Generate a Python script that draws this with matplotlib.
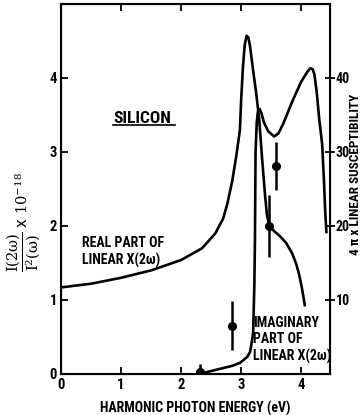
import matplotlib
matplotlib.use('Agg')
import matplotlib.pyplot as plt
from matplotlib import font_manager

# real part of linear chi(2w)
real_x = [0.0, 0.5, 1.0, 1.5, 2.0, 2.35, 2.57, 2.7, 2.77, 2.85, 2.92, 2.98,
          3.0, 3.03, 3.06, 3.09, 3.12, 3.15, 3.2, 3.25, 3.3, 3.35, 3.4,
          3.43, 3.47, 3.55, 3.65, 3.75, 3.85, 3.92, 3.97, 4.01, 4.04, 4.06]
real_y = [1.17, 1.22, 1.30, 1.40, 1.54, 1.70, 1.90, 2.1, 2.3, 2.6, 2.95, 3.3,
          3.7, 4.15, 4.45, 4.57, 4.55, 4.42, 4.1, 3.8, 3.45, 2.9, 2.4,
          2.15, 2.0, 1.93, 1.86, 1.77, 1.63, 1.48, 1.33, 1.17, 1.03, 0.93]

# imaginary part of linear chi(2w)
imag_x = [2.35, 2.5, 2.7, 2.85, 2.98, 3.1, 3.15, 3.2, 3.22, 3.23, 3.24, 3.26,
          3.28, 3.31, 3.34, 3.38, 3.45, 3.55, 3.62, 3.7, 3.85, 4.0, 4.1,
          4.15, 4.19, 4.22, 4.26, 4.3, 4.35, 4.38, 4.4, 4.42]
imag_y = [0.01, 0.04, 0.08, 0.11, 0.15, 0.23, 0.3, 0.55, 1.2, 1.8, 3.0, 3.4,
          3.55, 3.58, 3.52, 3.4, 3.28, 3.21, 3.25, 3.38, 3.68, 3.95, 4.08,
          4.13, 4.12, 4.05, 3.8, 3.45, 3.1, 2.6, 2.2, 1.92]

# measured points
pts_x = [2.32, 2.85, 3.47, 3.58]
pts_y = [0.03, 0.65, 2.0, 2.81]
pts_err = [0.1, 0.33, 0.42, 0.33]

# the lettering of the original is narrow, take a condensed face if there is one
have = {(f.name, f.stretch) for f in font_manager.fontManager.ttflist}
fnt = dict(family='DejaVu Sans', weight='bold')
for name, stretch in [('Roboto Condensed', 'normal'),
                      ('Roboto Condensed', 'condensed'),
                      ('Noto Sans', 'condensed'),
                      ('Liberation Sans Narrow', 'normal'),
                      ('DejaVu Sans', 'condensed')]:
    if (name, stretch) in have:
        fnt = dict(family=name, stretch=stretch, weight='bold')
        break
fs = 10

fig = plt.figure(figsize=(3.64, 4.15), dpi=100)
ax = fig.add_axes([0.1676, 0.0988, 0.739, 0.8916])

ax.plot(real_x, real_y, color='black', lw=1.9)
ax.plot(imag_x, imag_y, color='black', lw=1.9)
ax.errorbar(pts_x, pts_y, yerr=pts_err, fmt='o', color='black', ms=5.5,
            elinewidth=1.8, capsize=0)

ax.set_xlim(0, 4.48)
ax.set_ylim(0, 5.0)
ax.set_xticks([0, 1, 2, 3, 4])
ax.set_yticks([0, 1, 2, 3, 4])
ax.tick_params(direction='in', length=5, width=1.3, top=True, labelsize=fs + 0.5,
               pad=3)
for lab in ax.get_xticklabels() + ax.get_yticklabels():
    lab.set(**fnt)
for s in ax.spines.values():
    s.set_linewidth(1.5)

ax2 = ax.twinx()
ax2.set_ylim(0, 50)
ax2.set_yticks([10, 20, 30, 40])
ax2.tick_params(direction='inout', length=7, width=1.3, labelsize=fs,
                pad=0.5)
for lab in ax2.get_yticklabels():
    lab.set(**fnt)
ax2.set_ylabel('4 π x LINEAR SUSCEPTIBILITY', fontsize=9.5, **fnt)
ax2.yaxis.set_label_coords(1.072, 0.54)

ax.set_xlabel('HARMONIC PHOTON ENERGY (eV)', fontsize=fs, labelpad=6, **fnt)
ax.set_ylabel(r'$\dfrac{\mathrm{I(2\omega)}}{\mathrm{I^2(\omega)}}$ x $10^{-18}$',
              fontsize=10.5, math_fontfamily='dejavuserif')
ax.yaxis.set_label_coords(-0.067, 0.41)

ax.text(0.87, 3.55, 'SILICON', fontsize=12.5, va='top', **fnt)
ax.plot([0.87, 1.9], [3.36, 3.36], color='black', lw=1.2)
ax.text(0.35, 1.87, 'REAL PART OF\nLINEAR X(2ω)', fontsize=fs,
        va='top', linespacing=1.25, **fnt)
ax.text(3.2, 0.79, 'IMAGINARY\nPART OF\nLINEAR X(2ω)', fontsize=fs,
        va='top', linespacing=1.25, **fnt)

fig.savefig('out.png', dpi=100)
